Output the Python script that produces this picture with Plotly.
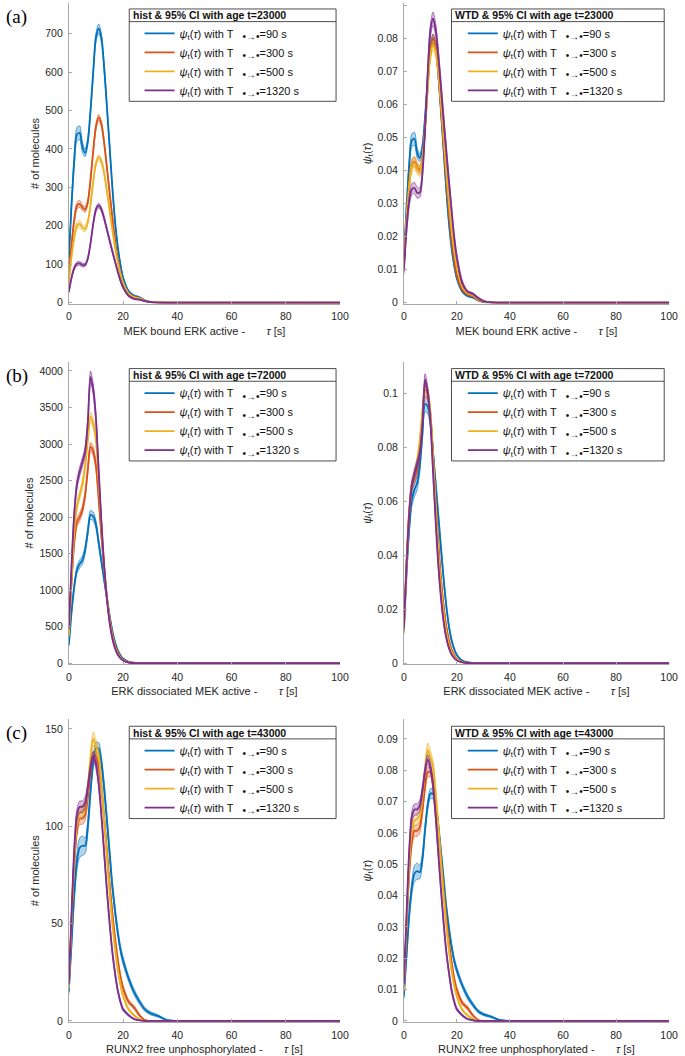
import plotly.graph_objects as go

# ---------------- data ----------------
TAU = [0, 1, 2, 3, 4, 5, 6, 7, 8, 9, 10, 11, 12, 13, 14, 15, 16, 17, 18, 19, 20,
       22, 24, 26, 28, 30, 33, 36, 40, 100]

SERIES_LABELS = ["=90 s", "=300 s", "=500 s", "=1320 s"]
COLORS = ["#0072BD", "#D95319", "#EDB120", "#7E2F8E"]
FILLS = ["rgba(0,114,189,0.30)", "rgba(217,83,25,0.30)", "rgba(237,177,32,0.30)", "rgba(126,47,142,0.30)"]

# panel (a) - MEK bound ERK active, age t=23000
A_HIST = [
    [115, 255, 370, 438, 442, 405, 390, 420, 500, 600, 690, 713, 690, 615, 515, 410, 305, 215, 148, 100, 65, 30, 18, 14, 6, 2, 0.5, 0, 0, 0],
    [65, 150, 215, 252, 257, 248, 242, 262, 320, 395, 458, 482, 465, 418, 355, 290, 225, 165, 115, 78, 50, 24, 15, 12, 5, 2, 0.5, 0, 0, 0],
    [52, 120, 170, 200, 205, 196, 192, 210, 255, 315, 362, 378, 368, 338, 293, 243, 193, 147, 107, 76, 52, 24, 14, 11, 5, 2, 0.5, 0, 0, 0],
    [28, 65, 90, 101, 102, 98, 98, 115, 155, 205, 242, 253, 243, 220, 192, 163, 135, 108, 82, 58, 40, 18, 10, 8, 4, 1.5, 0.3, 0, 0, 0],
]
A_HIST_CI = [
    [8, 12, 15, 18, 18, 14, 10, 10, 10, 11, 12, 12, 12, 11, 10, 9, 8, 7, 6, 5, 4, 3, 2, 2, 1, 0.5, 0, 0, 0, 0],
    [5, 7, 8, 9, 9, 8, 7, 7, 7, 8, 8, 8, 8, 8, 7, 7, 6, 5, 4, 4, 3, 2, 2, 1, 1, 0.5, 0, 0, 0, 0],
    [4, 6, 8, 9, 9, 8, 7, 7, 7, 7, 7, 7, 7, 7, 6, 6, 5, 5, 4, 3, 3, 2, 1, 1, 1, 0.5, 0, 0, 0, 0],
    [3, 4, 5, 5, 5, 5, 4, 4, 5, 5, 6, 6, 6, 6, 5, 5, 5, 4, 4, 3, 3, 2, 1, 1, 1, 0.5, 0, 0, 0, 0],
]
A_WTD = [
    [0.0129, 0.0286, 0.0415, 0.0491, 0.0496, 0.0454, 0.0438, 0.0471, 0.0561, 0.0673, 0.0774, 0.0800, 0.0774, 0.0690, 0.0578, 0.0460, 0.0342, 0.0241, 0.0166, 0.0112, 0.0073, 0.0034, 0.0020, 0.0016, 0.0007, 0.0002, 0.0001, 0, 0, 0],
    [0.0108, 0.0249, 0.0357, 0.0418, 0.0427, 0.0412, 0.0402, 0.0435, 0.0531, 0.0656, 0.0760, 0.0800, 0.0772, 0.0694, 0.0589, 0.0481, 0.0374, 0.0274, 0.0191, 0.0129, 0.0083, 0.0040, 0.0025, 0.0020, 0.0008, 0.0003, 0.0001, 0, 0, 0],
    [0.0107, 0.0247, 0.0350, 0.0412, 0.0422, 0.0404, 0.0396, 0.0433, 0.0525, 0.0649, 0.0746, 0.0779, 0.0758, 0.0696, 0.0604, 0.0501, 0.0398, 0.0303, 0.0220, 0.0157, 0.0107, 0.0049, 0.0029, 0.0023, 0.0010, 0.0004, 0.0001, 0, 0, 0],
    [0.0095, 0.0221, 0.0306, 0.0343, 0.0347, 0.0333, 0.0333, 0.0391, 0.0527, 0.0697, 0.0823, 0.0860, 0.0826, 0.0748, 0.0653, 0.0554, 0.0459, 0.0367, 0.0279, 0.0197, 0.0136, 0.0061, 0.0034, 0.0027, 0.0014, 0.0005, 0.0001, 0, 0, 0],
]
A_WTD_CI = [
    [0.0009, 0.0013, 0.0017, 0.0020, 0.0020, 0.0016, 0.0011, 0.0011, 0.0011, 0.0012, 0.0013, 0.0013, 0.0013, 0.0012, 0.0011, 0.0010, 0.0009, 0.0008, 0.0007, 0.0006, 0.0004, 0.0003, 0.0002, 0.0002, 0.0001, 0.0001, 0, 0, 0, 0],
    [0.0008, 0.0012, 0.0013, 0.0015, 0.0015, 0.0013, 0.0012, 0.0012, 0.0012, 0.0013, 0.0013, 0.0013, 0.0013, 0.0013, 0.0012, 0.0012, 0.0010, 0.0008, 0.0007, 0.0007, 0.0005, 0.0003, 0.0003, 0.0002, 0.0002, 0.0001, 0, 0, 0, 0],
    [0.0008, 0.0012, 0.0016, 0.0019, 0.0019, 0.0016, 0.0014, 0.0014, 0.0014, 0.0014, 0.0014, 0.0014, 0.0014, 0.0014, 0.0012, 0.0012, 0.0010, 0.0010, 0.0008, 0.0006, 0.0006, 0.0004, 0.0002, 0.0002, 0.0002, 0.0001, 0, 0, 0, 0],
    [0.0010, 0.0014, 0.0017, 0.0017, 0.0017, 0.0017, 0.0014, 0.0014, 0.0017, 0.0017, 0.0020, 0.0020, 0.0020, 0.0020, 0.0017, 0.0017, 0.0017, 0.0014, 0.0014, 0.0010, 0.0010, 0.0007, 0.0003, 0.0003, 0.0003, 0.0002, 0, 0, 0, 0],
]

# panel (b) - ERK dissociated MEK active, age t=72000
B_HIST = [
    [250, 700, 1050, 1280, 1360, 1410, 1550, 1800, 2030, 2010, 1900, 1650, 1400, 1150, 900, 660, 450, 290, 180, 110, 65, 22, 8, 3, 1, 0, 0, 0, 0, 0],
    [400, 1100, 1650, 1930, 2000, 2100, 2300, 2650, 2960, 2900, 2700, 2250, 1750, 1300, 920, 620, 400, 250, 150, 90, 50, 15, 5, 2, 1, 0, 0, 0, 0, 0],
    [380, 1150, 1800, 2150, 2300, 2450, 2700, 3050, 3370, 3280, 3050, 2500, 1900, 1350, 930, 610, 380, 230, 135, 80, 45, 13, 4, 1, 0, 0, 0, 0, 0, 0],
    [480, 1350, 2050, 2450, 2620, 2750, 2900, 3300, 3920, 3750, 3350, 2650, 1950, 1350, 900, 570, 350, 210, 120, 70, 38, 10, 3, 1, 0, 0, 0, 0, 0, 0],
]
B_HIST_CI = [
    [20, 35, 45, 50, 55, 55, 55, 55, 60, 60, 55, 50, 45, 40, 35, 30, 25, 18, 12, 8, 5, 2, 1, 0, 0, 0, 0, 0, 0, 0],
    [20, 40, 50, 55, 55, 55, 55, 55, 60, 60, 55, 50, 45, 40, 35, 30, 22, 15, 10, 7, 4, 2, 1, 0, 0, 0, 0, 0, 0, 0],
    [20, 40, 50, 55, 55, 60, 60, 60, 65, 65, 60, 55, 50, 40, 35, 28, 20, 14, 9, 6, 4, 2, 1, 0, 0, 0, 0, 0, 0, 0],
    [25, 45, 55, 60, 65, 65, 65, 70, 80, 80, 70, 60, 50, 40, 33, 25, 18, 12, 8, 5, 3, 1, 0, 0, 0, 0, 0, 0, 0, 0],
]
B_WTD = [
    [0.0118, 0.0331, 0.0497, 0.0605, 0.0643, 0.0667, 0.0733, 0.0851, 0.0960, 0.0951, 0.0899, 0.0780, 0.0662, 0.0544, 0.0426, 0.0312, 0.0213, 0.0137, 0.0085, 0.0052, 0.0031, 0.0010, 0.0004, 0.0001, 0, 0, 0, 0, 0, 0],
    [0.0137, 0.0376, 0.0564, 0.0660, 0.0684, 0.0718, 0.0787, 0.0906, 0.1012, 0.0992, 0.0923, 0.0770, 0.0599, 0.0445, 0.0315, 0.0212, 0.0137, 0.0086, 0.0051, 0.0031, 0.0017, 0.0005, 0.0002, 0.0001, 0, 0, 0, 0, 0, 0],
    [0.0116, 0.0351, 0.0549, 0.0656, 0.0702, 0.0747, 0.0824, 0.0930, 0.1028, 0.1000, 0.0930, 0.0763, 0.0580, 0.0412, 0.0284, 0.0186, 0.0116, 0.0070, 0.0041, 0.0024, 0.0014, 0.0004, 0.0001, 0, 0, 0, 0, 0, 0, 0],
    [0.0129, 0.0362, 0.0549, 0.0657, 0.0702, 0.0737, 0.0777, 0.0884, 0.1051, 0.1005, 0.0898, 0.0710, 0.0523, 0.0362, 0.0241, 0.0153, 0.0094, 0.0056, 0.0032, 0.0019, 0.0010, 0.0003, 0.0001, 0, 0, 0, 0, 0, 0, 0],
]
B_WTD_CI = [
    [0.0009, 0.0017, 0.0021, 0.0024, 0.0026, 0.0026, 0.0026, 0.0026, 0.0028, 0.0028, 0.0026, 0.0024, 0.0021, 0.0019, 0.0017, 0.0014, 0.0012, 0.0009, 0.0006, 0.0004, 0.0002, 0.0001, 0, 0, 0, 0, 0, 0, 0, 0],
    [0.0007, 0.0014, 0.0017, 0.0019, 0.0019, 0.0019, 0.0019, 0.0019, 0.0021, 0.0021, 0.0019, 0.0017, 0.0015, 0.0014, 0.0012, 0.0010, 0.0008, 0.0005, 0.0003, 0.0002, 0.0001, 0.0001, 0, 0, 0, 0, 0, 0, 0, 0],
    [0.0006, 0.0012, 0.0015, 0.0017, 0.0017, 0.0018, 0.0018, 0.0018, 0.0020, 0.0020, 0.0018, 0.0017, 0.0015, 0.0012, 0.0011, 0.0009, 0.0006, 0.0004, 0.0003, 0.0002, 0.0001, 0.0001, 0, 0, 0, 0, 0, 0, 0, 0],
    [0.0007, 0.0012, 0.0015, 0.0016, 0.0017, 0.0017, 0.0017, 0.0019, 0.0021, 0.0021, 0.0019, 0.0016, 0.0013, 0.0011, 0.0009, 0.0007, 0.0005, 0.0003, 0.0002, 0.0001, 0.0001, 0, 0, 0, 0, 0, 0, 0, 0, 0],
]

# panel (c) - RUNX2 free unphosphorylated, age t=43000
C_HIST = [
    [15, 40, 65, 82, 89, 90, 90, 100, 118, 133, 140, 140, 133, 120, 104, 87, 70, 57, 46, 37, 31, 22, 15, 10, 6, 4, 2.5, 0.5, 0, 0],
    [18, 50, 80, 98, 104, 104, 106, 115, 128, 136, 136, 131, 120, 105, 88, 71, 56, 43, 32, 23, 17, 10, 7, 3, 0.5, 0, 0, 0, 0, 0],
    [17, 52, 83, 102, 107, 108, 110, 120, 135, 145, 141, 136, 122, 104, 85, 67, 51, 38, 27, 19, 13, 6, 3, 1, 0, 0, 0, 0, 0, 0],
    [19, 55, 88, 106, 110, 110, 112, 120, 130, 136, 132, 122, 106, 87, 68, 51, 36, 25, 16, 10, 6, 3, 1, 0.3, 0, 0, 0, 0, 0, 0],
]
C_HIST_CI = [
    [1.5, 2.5, 3.5, 4.5, 5, 5, 4, 3.5, 3, 3, 3, 3, 3, 3, 3, 3, 2.5, 2.5, 2, 2, 2, 1.5, 1.5, 1.2, 1, 0.8, 0.6, 0.3, 0, 0],
    [1, 2, 2.5, 3, 3, 3, 3, 2.5, 2.5, 2.5, 2.5, 2.5, 2.5, 2.5, 2.5, 2, 2, 2, 1.5, 1.5, 1.2, 1, 1, 0.6, 0.2, 0, 0, 0, 0, 0],
    [1, 2, 2.5, 3, 3, 3, 3, 3, 3, 3.5, 3.5, 3, 3, 3, 2.5, 2.5, 2, 2, 1.5, 1.2, 1, 0.8, 0.5, 0.3, 0, 0, 0, 0, 0, 0],
    [1, 2, 2.5, 3, 3, 3, 3, 2.5, 2.5, 2.5, 2.5, 2.5, 2.5, 2.5, 2, 2, 1.5, 1.5, 1.2, 1, 0.8, 0.5, 0.3, 0.1, 0, 0, 0, 0, 0, 0],
]
C_WTD = [
    [0.0078, 0.0207, 0.0337, 0.0425, 0.0470, 0.0478, 0.0475, 0.0518, 0.0611, 0.0689, 0.0725, 0.0725, 0.0689, 0.0622, 0.0539, 0.0451, 0.0363, 0.0295, 0.0238, 0.0192, 0.0161, 0.0114, 0.0078, 0.0052, 0.0031, 0.0021, 0.0013, 0.0003, 0, 0],
    [0.0105, 0.0292, 0.0467, 0.0572, 0.0607, 0.0607, 0.0619, 0.0672, 0.0748, 0.0794, 0.0794, 0.0765, 0.0701, 0.0613, 0.0514, 0.0415, 0.0327, 0.0251, 0.0187, 0.0134, 0.0099, 0.0058, 0.0041, 0.0018, 0.0003, 0, 0, 0, 0, 0],
    [0.0101, 0.0310, 0.0496, 0.0609, 0.0639, 0.0645, 0.0657, 0.0716, 0.0806, 0.0866, 0.0842, 0.0812, 0.0728, 0.0621, 0.0507, 0.0400, 0.0304, 0.0227, 0.0161, 0.0113, 0.0078, 0.0036, 0.0018, 0.0006, 0, 0, 0, 0, 0, 0],
    [0.0117, 0.0338, 0.0540, 0.0651, 0.0675, 0.0675, 0.0688, 0.0737, 0.0798, 0.0835, 0.0810, 0.0749, 0.0651, 0.0534, 0.0418, 0.0313, 0.0221, 0.0154, 0.0098, 0.0061, 0.0037, 0.0018, 0.0006, 0.0002, 0, 0, 0, 0, 0, 0],
]
C_WTD_CI = [
    [0.0008, 0.0013, 0.0018, 0.0023, 0.0026, 0.0026, 0.0021, 0.0018, 0.0016, 0.0016, 0.0016, 0.0016, 0.0016, 0.0016, 0.0016, 0.0016, 0.0013, 0.0013, 0.0010, 0.0010, 0.0010, 0.0008, 0.0008, 0.0006, 0.0005, 0.0004, 0.0003, 0.0002, 0, 0],
    [0.0006, 0.0012, 0.0015, 0.0018, 0.0018, 0.0018, 0.0018, 0.0015, 0.0015, 0.0015, 0.0015, 0.0015, 0.0015, 0.0015, 0.0015, 0.0012, 0.0012, 0.0012, 0.0009, 0.0009, 0.0007, 0.0006, 0.0006, 0.0004, 0.0001, 0, 0, 0, 0, 0],
    [0.0006, 0.0012, 0.0015, 0.0018, 0.0018, 0.0018, 0.0018, 0.0018, 0.0018, 0.0021, 0.0021, 0.0018, 0.0018, 0.0018, 0.0015, 0.0015, 0.0012, 0.0012, 0.0009, 0.0007, 0.0006, 0.0005, 0.0003, 0.0002, 0, 0, 0, 0, 0, 0],
    [0.0006, 0.0012, 0.0015, 0.0018, 0.0018, 0.0018, 0.0018, 0.0015, 0.0015, 0.0015, 0.0015, 0.0015, 0.0015, 0.0015, 0.0012, 0.0012, 0.0009, 0.0009, 0.0007, 0.0006, 0.0005, 0.0003, 0.0002, 0.0001, 0, 0, 0, 0, 0, 0],
]

X_TICKS = [0, 20, 40, 60, 80, 100]
HIST_A_TICKS = [0, 100, 200, 300, 400, 500, 600, 700]
HIST_B_TICKS = [0, 500, 1000, 1500, 2000, 2500, 3000, 3500, 4000]
HIST_C_TICKS = [0, 50, 100, 150]
WTD_A_TICKS = [0, 0.01, 0.02, 0.03, 0.04, 0.05, 0.06, 0.07, 0.08, 0.09]
WTD_A_LABELS = ["0", "0.01", "0.02", "0.03", "0.04", "0.05", "0.06", "0.07", "0.08", "0.09"]
WTD_B_TICKS = [0, 0.02, 0.04, 0.06, 0.08, 0.1]
WTD_B_LABELS = ["0", "0.02", "0.04", "0.06", "0.08", "0.1"]

X_TITLES = ["MEK bound ERK active -", "ERK dissociated MEK active -", "RUNX2 free unphosphorylated -"]
AGES = ["23000", "72000", "43000"]
PANEL_TAGS = ["(a)", "(b)", "(c)"]

# ---------------- layout helpers ----------------
W, H = 685, 1056
SANS = "Liberation Sans, Arial, Helvetica, sans-serif"
SERIF = "Liberation Serif, DejaVu Serif, serif"
TXT = "#262626"
AX = "#a8a8a8"


def fx(p):
    return p / W


def fy(p):
    return 1 - p / H


COL_X = [(67, 343), (408, 678)]
ROW_Y = [(3, 305), (363, 667), (722, 1026)]
BOX_X = [(128.5, 339), (456.5, 673)]
BOX_TOP = [9, 370, 729]
TEXT_X = [179, 508]

panels = [
    (A_HIST, A_HIST_CI, HIST_A_TICKS, [str(v) for v in HIST_A_TICKS], 780),
    (A_WTD, A_WTD_CI, WTD_A_TICKS, WTD_A_LABELS, 0.0907),
    (B_HIST, B_HIST_CI, HIST_B_TICKS, [str(v) for v in HIST_B_TICKS], 4128),
    (B_WTD, B_WTD_CI, WTD_B_TICKS, WTD_B_LABELS, 0.1117),
    (C_HIST, C_HIST_CI, HIST_C_TICKS, [str(v) for v in HIST_C_TICKS], 155),
    (C_WTD, C_WTD_CI, WTD_A_TICKS, WTD_A_LABELS, 0.0963),
]

fig = go.Figure()
layout = dict(width=W, height=H, margin=dict(l=0, r=0, t=0, b=0),
              paper_bgcolor="white", plot_bgcolor="white", showlegend=True,
              font=dict(family=SANS, size=11, color=TXT))
shapes = []
annotations = []

for k, (data, ci, yt, ylab, ytop) in enumerate(panels):
    row, col = divmod(k, 2)
    idx = k + 1
    sfx = "" if idx == 1 else str(idx)
    xa, ya = "x" + sfx, "y" + sfx
    leg = "legend" + sfx
    for s in range(4):
        y = data[s]
        hi = [a + b for a, b in zip(y, ci[s])]
        lo = [max(a - b, 0) for a, b in zip(y, ci[s])]
        common = dict(x=TAU, xaxis=xa, yaxis=ya, mode="lines", hoverinfo="skip", legend=leg)
        fig.add_trace(go.Scatter(y=lo, line=dict(color=COLORS[s], width=0.6, shape="spline", smoothing=0.8),
                                 showlegend=False, **common))
        fig.add_trace(go.Scatter(y=hi, line=dict(color=COLORS[s], width=0.6, shape="spline", smoothing=0.8),
                                 fill="tonexty", fillcolor=FILLS[s], showlegend=False, **common))
        name = ("<i>ψ</i><sub>t</sub>(<i>τ</i>) with T\u00a0\u00a0\u00a0"
                "<sub><span style='font-size:10px'>•→•</span></sub>" + SERIES_LABELS[s])
        fig.add_trace(go.Scatter(y=y, name=name, line=dict(color=COLORS[s], width=1.8, shape="spline", smoothing=0.8),
                                 showlegend=True, **common))

    x0, x1 = COL_X[col]
    ytp, ybt = ROW_Y[row]
    axis_common = dict(showline=True, linecolor=AX, linewidth=0.8, ticks="inside", ticklen=3,
                       tickcolor=AX, tickwidth=0.8, showgrid=False, zeroline=False,
                       tickfont=dict(family=SANS, size=10.5, color=TXT))
    layout["xaxis" + sfx] = dict(domain=[fx(x0), fx(x1)], anchor=ya, range=[0, 100],
                                 tickmode="array", tickvals=X_TICKS, ticktext=[str(v) for v in X_TICKS],
                                 title=dict(text=X_TITLES[row] + "\u00a0" * 7 + "<i>τ</i> [s]",
                                            font=dict(family=SANS, size=11, color=TXT), standoff=5),
                                 ticklabelstandoff=3,
                                 **axis_common)
    ytitle = "# of molecules" if col == 0 else "<i>ψ</i><sub>t</sub>(<i>τ</i>)"
    layout["yaxis" + sfx] = dict(domain=[fy(ybt), fy(ytp)], anchor=xa, range=[-0.004 * ytop, ytop],
                                 tickmode="array", tickvals=yt, ticktext=ylab,
                                 title=dict(text=ytitle, font=dict(family=SANS, size=11, color=TXT), standoff=3),
                                 ticklabelstandoff=3,
                                 **axis_common)

    # legend box, header and separator
    bx0, bx1 = BOX_X[col]
    bt = BOX_TOP[row]
    bb = bt + 92.7
    shapes.append(dict(type="rect", xref="paper", yref="paper", x0=fx(bx0), x1=fx(bx1), y0=fy(bb), y1=fy(bt),
                       line=dict(color="#3a3a3a", width=0.9), fillcolor="white", layer="above"))
    shapes.append(dict(type="line", xref="paper", yref="paper", x0=fx(bx0), x1=fx(bx1), y0=fy(bt + 12.7), y1=fy(bt + 12.7),
                       line=dict(color="#3a3a3a", width=0.9), layer="above"))
    head = ("hist" if col == 0 else "WTD") + " & 95% CI with age t=" + AGES[row]
    annotations.append(dict(text="<b>" + head + "</b>", xref="paper", yref="paper", x=fx(bx0 + 1.5), y=fy(bt + 6.5),
                            xanchor="left", yanchor="middle", showarrow=False,
                            font=dict(family=SANS, size=10.5, color="#111111")))
    layout[leg] = dict(x=fx(TEXT_X[col] - 40), y=fy(bt + 10), xanchor="left", yanchor="top",
                       bgcolor="rgba(0,0,0,0)", borderwidth=0, itemwidth=30, tracegroupgap=0,
                       traceorder="normal",
                       font=dict(family=SANS, size=11, color="#111111"))

for r in range(3):
    annotations.append(dict(text=PANEL_TAGS[r], xref="paper", yref="paper", x=fx(1), y=fy(ROW_Y[r][0] + 14),
                            xanchor="left", yanchor="middle", showarrow=False,
                            font=dict(family=SERIF, size=19, color="#000000")))

layout["shapes"] = shapes
layout["annotations"] = annotations
fig.update_layout(**layout)
fig.write_html("out.html", config={"displayModeBar": False},
               post_script="document.body.style.margin='0px';")
